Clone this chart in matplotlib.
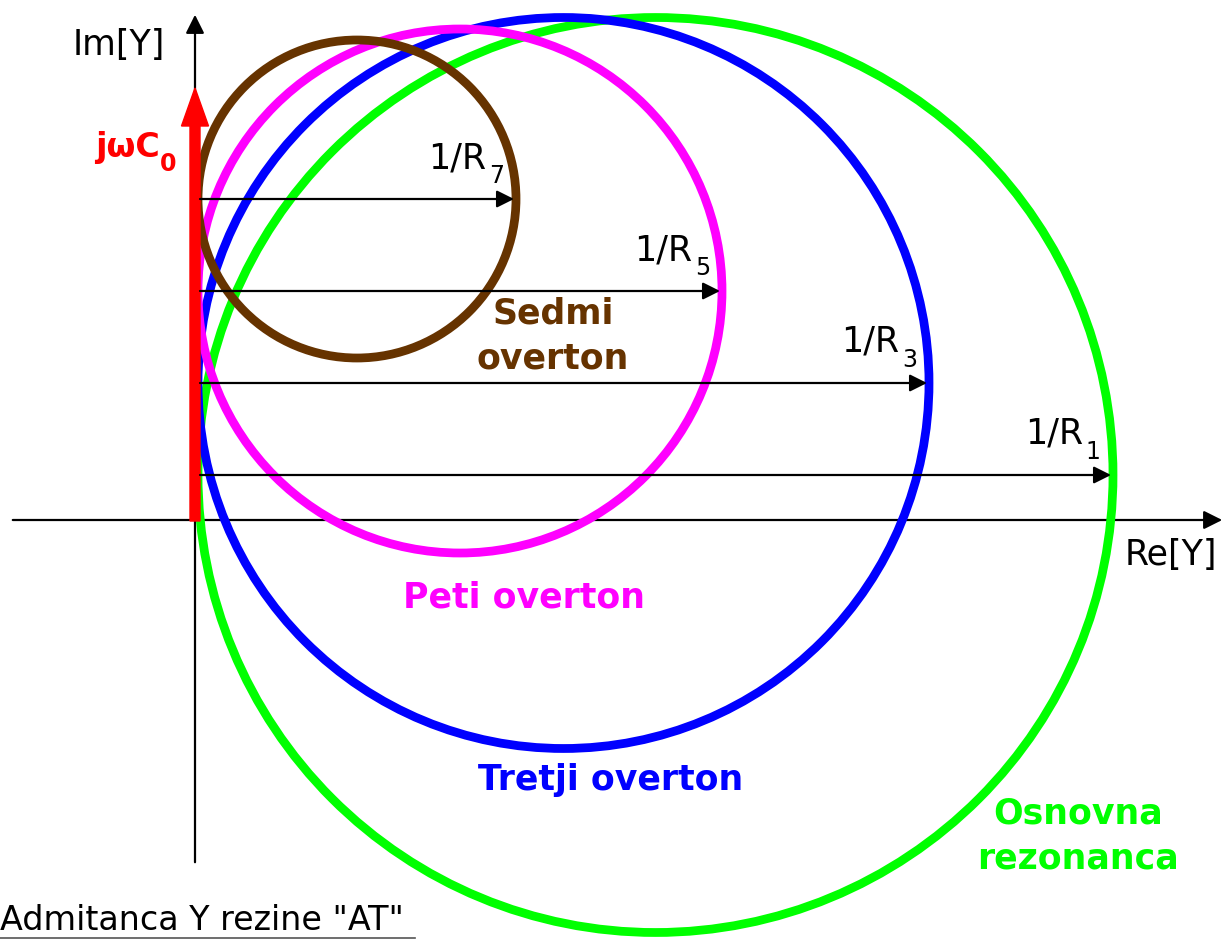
import matplotlib
matplotlib.use('Agg')
import matplotlib.pyplot as plt
from matplotlib.patches import Circle, FancyArrowPatch

# conductance 1/R of each mode (circle diameter) and the susceptance offset
# where each circle touches the imaginary axis (schematic units)
modes = ["Osnovna\nrezonanca", "Tretji overton", "Peti overton", "Sedmi\noverton"]
harmonic = [1, 3, 5, 7]
conductance = [9.15, 7.31, 5.24, 3.18]
offset = [0.45, 1.37, 2.29, 3.21]
colors = ["#00ff00", "#0000ff", "#ff00ff", "#663300"]
label_pos = [(8.83, -3.16), (4.16, -2.60), (3.29, -0.77), (3.58, 1.84)]
c0_height = 4.33

fig = plt.figure(figsize=(12.28, 9.4), dpi=100)
ax = fig.add_axes([0, 0, 1, 1])
ax.set_xlim(-1.95, 10.33)
ax.set_ylim(-4.2, 5.2)
ax.set_aspect('equal')
ax.axis('off')

# axes of the complex plane
ax.add_patch(FancyArrowPatch((-1.85, 0), (10.30, 0), arrowstyle='-|>', mutation_scale=28,
                             lw=1.6, color='black', zorder=2))
ax.add_patch(FancyArrowPatch((0, -3.45), (0, 5.08), arrowstyle='-|>', mutation_scale=28,
                             lw=1.6, color='black', zorder=2))
ax.text(-1.22, 4.75, "Im[Y]", fontsize=25, ha='left', va='center')
ax.text(9.30, -0.35, "Re[Y]", fontsize=25, ha='left', va='center')

x_left = 0.03
for g, b, col, name, (lx, ly), h in zip(conductance, offset, colors, modes, label_pos, harmonic):
    ax.add_patch(Circle((x_left + g / 2, b), g / 2, fill=False, ec=col, lw=6.3, zorder=3))
    ax.add_patch(FancyArrowPatch((0.05, b), (x_left + g - 0.02, b), arrowstyle='-|>',
                                 mutation_scale=26, lw=1.6, color='black',
                                 shrinkA=0, shrinkB=0, zorder=5))
    t = ax.text(x_left + g - 0.88, b + 0.31, "1/R", fontsize=25, ha='left', va='baseline', zorder=6)
    ax.annotate(str(h), xy=(1, 0), xycoords=t, xytext=(2, -1), textcoords='offset points',
                fontsize=17, ha='left', va='center', zorder=6)
    ax.text(lx, ly, name, fontsize=25, fontweight='bold', color=col, ha='center',
            va='center', linespacing=1.4, zorder=6)

# parallel capacitance arrow
ax.arrow(0, -0.01, 0, c0_height, width=0.10, head_width=0.27, head_length=0.38,
         length_includes_head=True, fc='#ff0000', ec='#ff0000', zorder=4)
t = ax.text(-1.00, 3.63, "jωC", fontsize=24, fontweight='bold', color='#ff0000',
            ha='left', va='baseline')
ax.annotate("0", xy=(1, 0), xycoords=t, xytext=(0, 0), textcoords='offset points',
            fontsize=17, fontweight='bold', color='#ff0000', ha='left', va='center')

ax.text(-1.95, -4.0, 'Admitanca Y rezine "AT"', fontsize=24, ha='left', va='center')
ax.plot([-1.95, 2.20], [-4.18, -4.18], color='#555555', lw=1.2)

fig.savefig('out.png', dpi=100)
